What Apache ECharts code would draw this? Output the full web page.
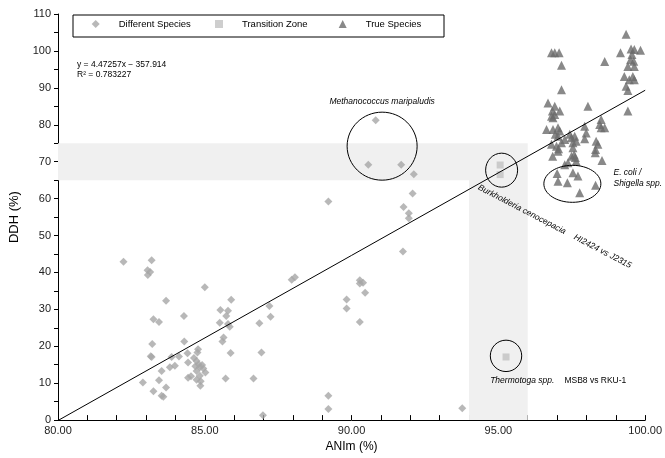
<!DOCTYPE html>
<html>
<head>
<meta charset="utf-8">
<script src="https://cdn.jsdelivr.net/npm/echarts@6.0.0/dist/echarts.min.js"></script>
<style>
  html, body { margin: 0; padding: 0; background: #fff; }
  #main { width: 665px; height: 458px; }
</style>
</head>
<body>
<div id="main"></div>
<script>
// ANIm (%) vs DDH (%)
var differentSpecies = [
  [82.23, 42.9], [83.19, 43.3], [83.05, 40.6], [83.14, 40.1], [83.06, 39.3],
  [85.00, 36.0], [83.68, 32.3], [85.90, 32.6], [85.53, 29.8], [85.79, 29.6],
  [85.73, 28.2], [84.29, 28.2], [83.25, 27.3], [83.44, 26.6], [85.51, 26.4],
  [85.79, 26.0], [85.85, 25.3], [86.86, 26.2], [87.20, 30.9], [87.24, 28.0],
  [87.96, 38.0], [88.07, 38.7], [83.21, 20.6], [83.19, 17.1], [84.30, 21.3],
  [85.64, 22.4], [85.60, 21.3], [84.77, 19.2], [84.41, 18.1], [84.12, 17.2],
  [83.87, 17.1], [84.75, 18.3], [84.63, 16.8], [84.43, 15.6], [84.72, 16.0],
  [84.91, 14.9], [84.83, 14.3], [85.02, 12.9], [83.98, 14.7], [83.81, 14.3],
  [83.53, 13.3], [85.88, 18.2], [86.93, 18.3], [82.89, 10.2], [83.44, 10.8],
  [83.68, 8.8], [83.25, 7.8], [83.53, 6.6], [83.59, 6.3], [84.43, 11.5],
  [84.53, 11.9], [84.72, 10.9], [84.86, 10.5], [84.85, 9.3], [84.72, 13.3],
  [84.83, 12.0], [85.71, 11.3], [86.66, 11.3], [86.98, 1.3], [83.16, 17.3],
  [84.79, 15.1], [84.95, 14.0], [84.68, 14.6],
  [89.21, 6.6], [89.21, 3.0], [93.77, 3.2],
  [90.82, 81.2], [90.57, 69.2], [91.69, 69.2], [92.12, 66.6], [89.21, 59.2],
  [92.08, 61.4], [91.77, 57.7], [91.95, 56.0], [91.95, 54.7], [91.75, 45.7],
  [90.28, 37.9], [90.39, 37.2], [90.28, 37.0], [90.46, 34.5], [89.83, 32.7],
  [89.83, 30.2], [90.28, 26.6]
];
var transitionZone = [[95.06, 69.1], [95.06, 66.5], [95.26, 17.1]];
var trueSpecies = [
  [99.35, 104.5], [96.81, 99.5], [96.92, 99.5], [97.07, 99.5], [97.15, 96.1],
  [98.62, 97.1], [99.16, 99.5], [99.52, 100.5], [99.63, 100.4], [99.84, 100.2],
  [99.55, 99.0], [99.50, 97.6], [99.61, 97.2], [99.41, 95.8], [99.63, 95.8],
  [99.29, 93.1], [99.46, 92.2], [99.58, 93.1], [99.63, 92.2], [99.35, 90.4],
  [99.41, 89.3], [97.15, 89.5], [99.41, 83.7], [96.69, 85.9], [96.92, 85.0],
  [96.84, 83.7], [96.92, 82.8], [96.86, 81.9], [97.09, 83.7], [96.81, 82.3],
  [98.05, 85.0], [96.64, 78.7], [96.86, 78.7], [97.03, 79.2], [97.09, 78.3],
  [96.94, 77.4], [97.03, 76.9], [96.81, 74.7], [96.98, 74.2], [97.03, 72.8],
  [97.15, 75.1], [97.26, 76.0], [97.43, 77.4], [97.49, 76.5], [97.60, 76.9],
  [97.54, 75.1], [97.65, 75.5], [97.54, 73.8], [97.58, 71.9], [97.49, 71.5],
  [97.62, 71.1], [97.65, 70.1], [97.37, 69.7], [97.26, 69.2], [97.94, 79.6],
  [97.99, 77.8], [97.94, 76.2], [98.50, 81.4], [98.45, 80.1], [98.50, 79.2],
  [98.62, 79.2], [98.33, 75.5], [98.39, 74.7], [98.31, 73.3], [98.30, 72.4],
  [98.53, 70.3], [97.00, 66.8], [97.03, 64.7], [97.35, 64.3], [97.54, 67.0],
  [97.71, 66.1], [97.77, 61.6], [98.31, 63.6], [97.05, 73.5], [96.85, 71.5]
];

// least-squares fit reported on the chart
var slope = 4.47257, intercept = -357.914, rSquared = 0.783227;
var fitRange = [80, 100];
var fitLine = fitRange.map(function (x) { return [x, slope * x + intercept]; });

// shaded zones: [x0, y0, x1, y1]
var zones = [[80, 65, 94, 75], [94, 0, 96, 75]];

var legendNames = ['Different Species', 'Transition Zone', 'True Species'];
var legendLefts = [91.7, 215, 338.7];

var circles = [
  { x: 91.04, y: 74.2, rx: 35, ry: 34 },
  { x: 95.11, y: 67.7, rx: 16, ry: 17 },
  { x: 97.52, y: 64.0, rx: 28.5, ry: 18.5 },
  { x: 95.26, y: 17.4, rx: 15.7, ry: 15.7 }
];

var chartDom = document.getElementById('main');
var myChart = echarts.init(chartDom);
var font = 'Liberation Sans';

var option = {
  backgroundColor: '#fff',
  animation: false,
  textStyle: { fontFamily: font },
  grid: { left: 57.5, right: 18, top: 14, bottom: 37 },
  legend: legendNames.map(function (name, i) {
    return {
      data: [name],
      left: legendLefts[i],
      top: 19,
      padding: 0,
      itemWidth: 8,
      itemHeight: 8,
      textStyle: { fontSize: 9.5, color: '#000', padding: [0, 0, 0, 14], fontFamily: font }
    };
  }),
  xAxis: {
    type: 'value',
    min: 80,
    max: 100,
    interval: 1,
    name: 'ANIm (%)',
    nameLocation: 'middle',
    nameGap: 11,
    nameTextStyle: { fontSize: 12, color: '#000' },
    axisLine: { lineStyle: { color: '#000', width: 1 } },
    axisTick: { inside: true, length: 5, lineStyle: { color: '#000' } },
    axisLabel: {
      fontSize: 11, color: '#222', margin: 5,
      formatter: function (v) { return v % 5 === 0 ? v.toFixed(2) : ''; }
    },
    splitLine: { show: false }
  },
  yAxis: {
    type: 'value',
    min: 0,
    max: 110,
    interval: 5,
    name: 'DDH (%)',
    nameLocation: 'middle',
    nameGap: 37,
    nameTextStyle: { fontSize: 13, color: '#000' },
    axisLine: { show: true, lineStyle: { color: '#000', width: 1 } },
    axisTick: { show: true, length: 4, lineStyle: { color: '#000' } },
    axisLabel: {
      fontSize: 11, color: '#222', margin: 7,
      formatter: function (v) { return v % 10 === 0 ? String(v) : ''; }
    },
    splitLine: { show: false }
  },
  series: [
    {
      name: 'Different Species',
      type: 'scatter',
      symbol: 'diamond',
      symbolSize: 8,
      itemStyle: { color: '#a6a6a6' },
      data: differentSpecies,
      markArea: {
        silent: true,
        itemStyle: { color: '#f0f0f0' },
        data: zones.map(function (z) {
          return [{ coord: [z[0], z[1]] }, { coord: [z[2], z[3]] }];
        })
      }
    },
    {
      name: 'Transition Zone',
      type: 'scatter',
      symbol: 'rect',
      symbolSize: 7,
      itemStyle: { color: '#c2c2c2' },
      data: transitionZone
    },
    {
      name: 'True Species',
      type: 'scatter',
      symbol: 'triangle',
      symbolSize: 9,
      itemStyle: { color: '#6b6b6b' },
      data: trueSpecies
    },
    {
      type: 'line',
      data: fitLine,
      symbol: 'none',
      silent: true,
      clip: true,
      lineStyle: { color: '#000', width: 1 },
      z: 5
    }
  ]
};

myChart.setOption(option);

function px(x, y) { return myChart.convertToPixel({ gridIndex: 0 }, [x, y]); }

var graphics = [];
graphics.push({
  type: 'rect', z: 0,
  shape: { x: 73, y: 15, width: 371, height: 22 },
  style: { fill: 'none', stroke: '#000', lineWidth: 1 }
});
graphics.push({
  type: 'text', x: 77, y: 60, z: 100,
  style: {
    text: 'y = ' + slope + 'x \u2212 ' + Math.abs(intercept) + '\nR\u00b2 = ' + rSquared,
    font: '8.5px "' + font + '"', fill: '#000', lineHeight: 9.5
  }
});
circles.forEach(function (c) {
  var p = px(c.x, c.y);
  graphics.push({
    type: 'ellipse', z: 100,
    shape: { cx: p[0], cy: p[1], rx: c.rx, ry: c.ry },
    style: { fill: 'none', stroke: '#000', lineWidth: 1 }
  });
});
var pM = px(91.04, 86.3);
graphics.push({
  type: 'text', x: pM[0], y: pM[1], z: 100,
  style: { text: 'Methanococcus maripaludis', font: 'italic 8.5px "' + font + '"', fill: '#000', textAlign: 'center', textVerticalAlign: 'middle' }
});
var pE = px(98.92, 65.5);
graphics.push({
  type: 'text', x: pE[0], y: pE[1], z: 100,
  style: { text: 'E. coli /\nShigella spp.', font: 'italic 8.5px "' + font + '"', fill: '#000', lineHeight: 11, textVerticalAlign: 'middle' }
});
var pT = px(94.72, 10.6);
graphics.push({
  type: 'text', x: pT[0], y: pT[1], z: 100,
  style: {
    text: '{i|Thermotoga spp.}   {n|MSB8 vs RKU-1}',
    textVerticalAlign: 'middle',
    rich: {
      i: { font: 'italic 8.5px "' + font + '"', fill: '#000' },
      n: { font: '8.5px "' + font + '"', fill: '#000' }
    }
  }
});
var pB = px(94.42, 64.6);
graphics.push({
  type: 'text', x: pB[0], y: pB[1], rotation: -0.48, z: 100,
  style: {
    text: '{i|Burkholderia cenocepacia}   {n|HI2424 vs J2315}',
    textVerticalAlign: 'top',
    rich: {
      i: { font: 'italic 8.5px "' + font + '"', fill: '#000' },
      n: { font: 'italic 8.5px "' + font + '"', fill: '#000' }
    }
  }
});
myChart.setOption({ graphic: graphics });
</script>
</body>
</html>
